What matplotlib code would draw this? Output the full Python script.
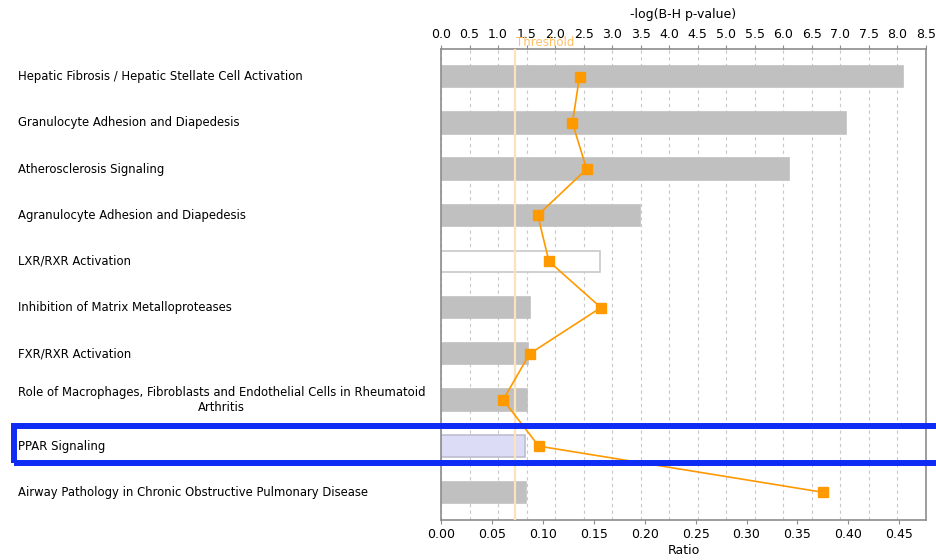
import matplotlib.pyplot as plt
import matplotlib.transforms as mtransforms
from matplotlib.patches import Rectangle

pathways = [
    "Hepatic Fibrosis / Hepatic Stellate Cell Activation",
    "Granulocyte Adhesion and Diapedesis",
    "Atherosclerosis Signaling",
    "Agranulocyte Adhesion and Diapedesis",
    "LXR/RXR Activation",
    "Inhibition of Matrix Metalloproteases",
    "FXR/RXR Activation",
    "Role of Macrophages, Fibroblasts and Endothelial Cells in Rheumatoid\nArthritis",
    "PPAR Signaling",
    "Airway Pathology in Chronic Obstructive Pulmonary Disease",
]
neg_log_p = [8.10, 7.10, 6.10, 3.49, 2.79, 1.56, 1.52, 1.51, 1.47, 1.49]
ratio = [0.136, 0.129, 0.143, 0.095, 0.106, 0.157, 0.087, 0.061, 0.096, 0.375]
threshold = 1.301
top_ticks = [i * 0.5 for i in range(18)]
bottom_ticks = [i * 0.05 for i in range(10)]

plt.rcParams['font.family'] = ['DejaVu Sans']
grey = '#8c8c8c'

fig = plt.figure(figsize=(9.36, 5.6), dpi=100)
ax = fig.add_axes([441 / 936, 1 - 520 / 560, 485 / 936, 471 / 560])
ax2 = ax.twiny()
ypos = list(range(len(pathways)))

# bars on the -log(p) axis (top)
faces = ['#c0c0c0'] * len(pathways)
edges = ['#c0c0c0'] * len(pathways)
faces[4], edges[4] = 'white', '#c8c8c8'
faces[8], edges[8] = '#dcdcf6', '#bdbdd0'
ax.barh(ypos, neg_log_p, height=0.46, color=faces, edgecolor=edges,
        linewidth=1.2, zorder=2)
ax.axvline(threshold, color='#fde3bd', lw=1.6, zorder=3)
thr_trans = mtransforms.blended_transform_factory(ax.transData, ax.transAxes)
ax.text(threshold + 0.02, 1 + 7 / 471, "Threshold", color='#ffc066',
        fontsize=8.5, va='center', ha='left', zorder=4, transform=thr_trans,
        clip_on=False)

ax.set_xlim(0, 8.5)
ax.set_ylim(len(pathways) - 0.4, -0.6)
ax.xaxis.tick_top()
ax.xaxis.set_label_position('top')
ax.set_xticks(top_ticks)
ax.set_xticklabels([f"{t:.1f}" for t in top_ticks])
ax.set_xlabel("-log(B-H p-value)", fontsize=9, labelpad=7)
ax.set_yticks([])
ax.grid(axis='x', color='#c8c8c8', linestyle=(0, (3, 3)), lw=0.8)
ax.set_axisbelow(True)
ax.tick_params(axis='x', length=3, color=grey, labelsize=9, pad=3)
for s in ax.spines.values():
    s.set_color(grey)
    s.set_linewidth(1.2)

# ratio line on the bottom axis
ax2.plot(ratio, ypos, color='#ff9900', lw=1.2, marker='s', markersize=7.5,
         zorder=5)
ax2.set_xlim(0, 8.5 / 17.85)
ax2.xaxis.tick_bottom()
ax2.xaxis.set_label_position('bottom')
ax2.set_xticks(bottom_ticks)
ax2.set_xticklabels([f"{t:.2f}" for t in bottom_ticks])
ax2.set_xlabel("Ratio", fontsize=9, labelpad=2)
ax2.tick_params(axis='x', length=3, color=grey, labelsize=9, pad=3)
for s in ax2.spines.values():
    s.set_visible(False)

# pathway names, left aligned at the figure edge
trans = mtransforms.blended_transform_factory(fig.transFigure, ax.transData)
for y, name in zip(ypos, pathways):
    ax.text(18 / 936, y, name, transform=trans, ha='left', va='center',
            multialignment='center', fontsize=8.4, clip_on=False)

# highlight box around the PPAR row
fig.patches.append(Rectangle((13.5 / 936, 1 - 463 / 560), 940 / 936, 37 / 560,
                             transform=fig.transFigure, fill=False,
                             edgecolor='#0f2cf5', lw=4.3, clip_on=False))

fig.savefig("out.png", dpi=100)
